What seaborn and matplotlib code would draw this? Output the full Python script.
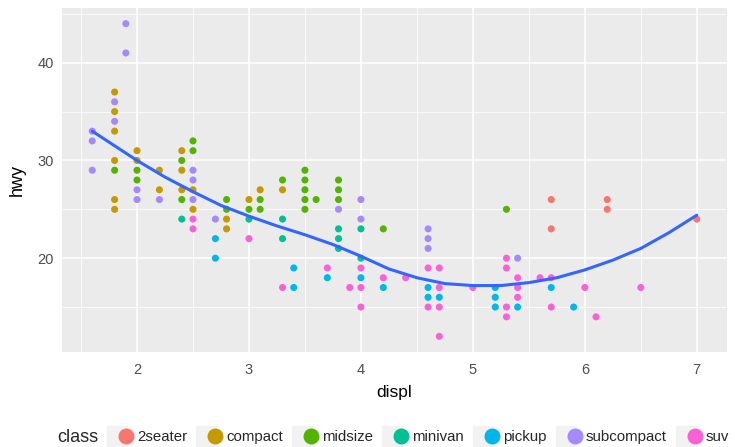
import pandas as pd
import seaborn as sns
import matplotlib
matplotlib.use("Agg")
import matplotlib.pyplot as plt
from matplotlib.lines import Line2D
from matplotlib.legend_handler import HandlerTuple

# point data, one pair of lists per class
displ_2seater = [5.7, 5.7, 6.2, 6.2, 7.0]
hwy_2seater = [26, 23, 26, 25, 24]

displ_compact = [1.8, 1.8, 1.8, 1.8, 1.8, 1.8, 2.0, 2.0, 2.2, 2.2, 2.4, 2.4, 2.4, 2.5, 2.5, 2.8, 2.8, 3.0, 3.1, 3.3]
hwy_compact = [37, 35, 33, 30, 26, 25, 31, 30, 29, 27, 31, 29, 27, 27, 25, 24, 23, 26, 27, 27]

displ_midsize = [1.8, 2.0, 2.0, 2.4, 2.4, 2.5, 2.5, 2.8, 2.8, 3.0, 3.1, 3.1, 3.3, 3.5, 3.5, 3.5, 3.5, 3.5, 3.6, 3.8, 3.8, 3.8, 4.2, 5.3]
hwy_midsize = [29, 29, 28, 30, 26, 32, 31, 26, 25, 25, 26, 25, 28, 29, 28, 27, 26, 25, 26, 28, 27, 26, 23, 25]

displ_minivan = [2.4, 3.0, 3.3, 3.3, 3.8, 3.8, 3.8, 4.0, 4.0]
hwy_minivan = [24, 24, 24, 22, 23, 22, 21, 23, 20]

displ_pickup = [2.7, 2.7, 3.4, 3.4, 3.7, 4.0, 4.2, 4.6, 4.6, 4.7, 5.2, 5.2, 5.2, 5.4, 5.7, 5.9]
hwy_pickup = [22, 20, 19, 17, 18, 18, 17, 17, 16, 16, 17, 16, 15, 15, 17, 15]

displ_subcompact = [1.6, 1.6, 1.6, 1.8, 1.8, 1.9, 1.9, 2.0, 2.0, 2.2, 2.5, 2.5, 2.5, 2.7, 3.8, 4.0, 4.0, 4.6, 4.6, 4.6, 5.4]
hwy_subcompact = [33, 32, 29, 36, 34, 44, 41, 27, 26, 26, 29, 28, 26, 24, 25, 26, 24, 23, 22, 21, 20]

displ_suv = [2.5, 2.5, 3.0, 3.3, 3.7, 3.9, 4.0, 4.0, 4.0, 4.2, 4.4, 4.6, 4.6, 4.7, 4.7, 4.7, 4.7, 5.0,
             5.3, 5.3, 5.3, 5.3, 5.4, 5.4, 5.4, 5.6, 5.7, 5.7, 6.0, 6.1, 6.5]
hwy_suv = [24, 23, 22, 17, 19, 17, 19, 17, 15, 18, 18, 19, 15, 19, 17, 15, 12, 17,
           20, 19, 15, 14, 18, 17, 16, 18, 18, 15, 17, 14, 17]

# smooth curve
smooth_displ = [1.6, 1.8, 2.0, 2.25, 2.5, 2.75, 3.0, 3.25, 3.5, 3.75, 4.0, 4.25, 4.5,
                4.75, 5.0, 5.25, 5.5, 5.75, 6.0, 6.25, 6.5, 6.75, 7.0]
smooth_hwy = [33.0, 31.5, 30.0, 28.3, 26.8, 25.4, 24.3, 23.3, 22.4, 21.4, 20.2, 18.9, 18.0,
              17.4, 17.2, 17.2, 17.5, 18.0, 18.8, 19.8, 21.0, 22.6, 24.4]

classes = ["2seater", "compact", "midsize", "minivan", "pickup", "subcompact", "suv"]
colors = ["#F8766D", "#C49A00", "#53B400", "#00C094", "#00B6EB", "#A58AFF", "#FB61D7"]

frames = []
for c, xs, ys in [
    ("2seater", displ_2seater, hwy_2seater),
    ("compact", displ_compact, hwy_compact),
    ("midsize", displ_midsize, hwy_midsize),
    ("minivan", displ_minivan, hwy_minivan),
    ("pickup", displ_pickup, hwy_pickup),
    ("subcompact", displ_subcompact, hwy_subcompact),
    ("suv", displ_suv, hwy_suv),
]:
    frames.append(pd.DataFrame({"displ": xs, "hwy": ys, "class": c}))
df = pd.concat(frames, ignore_index=True)
smooth = pd.DataFrame({"displ": smooth_displ, "hwy": smooth_hwy})

sns.set_theme(style="darkgrid")
plt.rcParams["font.family"] = ["Liberation Sans", "DejaVu Sans"]

fig, ax = plt.subplots(figsize=(7.35, 4.47), dpi=100)
fig.subplots_adjust(left=62 / 735, right=727 / 735, top=1 - 8 / 447, bottom=1 - 352 / 447)

ax.set_facecolor("#EBEBEB")
sns.scatterplot(data=df, x="displ", y="hwy", hue="class", hue_order=classes,
                palette=dict(zip(classes, colors)), s=26, linewidth=0, ax=ax, zorder=3,
                legend=False)
sns.lineplot(data=smooth, x="displ", y="hwy", color="#3366FF", linewidth=2.2, ax=ax, zorder=4)

ax.set_xlim(1.33, 7.27)
ax.set_ylim(10.4, 45.6)
ax.set_xticks([2, 3, 4, 5, 6, 7])
ax.set_yticks([20, 30, 40])
ax.set_xticks([1.5, 2.5, 3.5, 4.5, 5.5, 6.5], minor=True)
ax.set_yticks([15, 25, 35, 45], minor=True)
ax.grid(which="major", color="white", linewidth=1.1)
ax.grid(which="minor", color="white", linewidth=0.55)
for s in ax.spines.values():
    s.set_visible(False)
ax.tick_params(which="major", length=3, width=0.8, color="#333333",
               labelsize=10.5, labelcolor="#4D4D4D", pad=3)
ax.tick_params(axis="x", which="major", pad=5)
ax.tick_params(which="minor", length=0)
ax.set_xlabel("displ", fontsize=12.5, color="black", labelpad=6)
ax.set_ylabel("hwy", fontsize=13, color="black", labelpad=8)

# legend keys: grey box with the coloured dot on top, like ggplot
handles = []
for col in colors:
    box = Line2D([], [], marker="s", color="#F2F2F2", markersize=14, linestyle="")
    dot = Line2D([], [], marker="o", color=col, markersize=10.5, linestyle="")
    handles.append((box, dot))
fig.legend(handles, classes, handler_map={tuple: HandlerTuple(ndivide=None)},
           loc="center", bbox_to_anchor=(421 / 735, 1 - 437 / 447), ncol=7,
           frameon=False, fontsize=10.8, handlelength=1.2, handletextpad=0.45,
           columnspacing=0.95, borderaxespad=0, borderpad=0)
fig.text(57 / 735, 1 - 437 / 447, "class", fontsize=13, va="center", ha="left")

fig.savefig("out.png", dpi=100)
